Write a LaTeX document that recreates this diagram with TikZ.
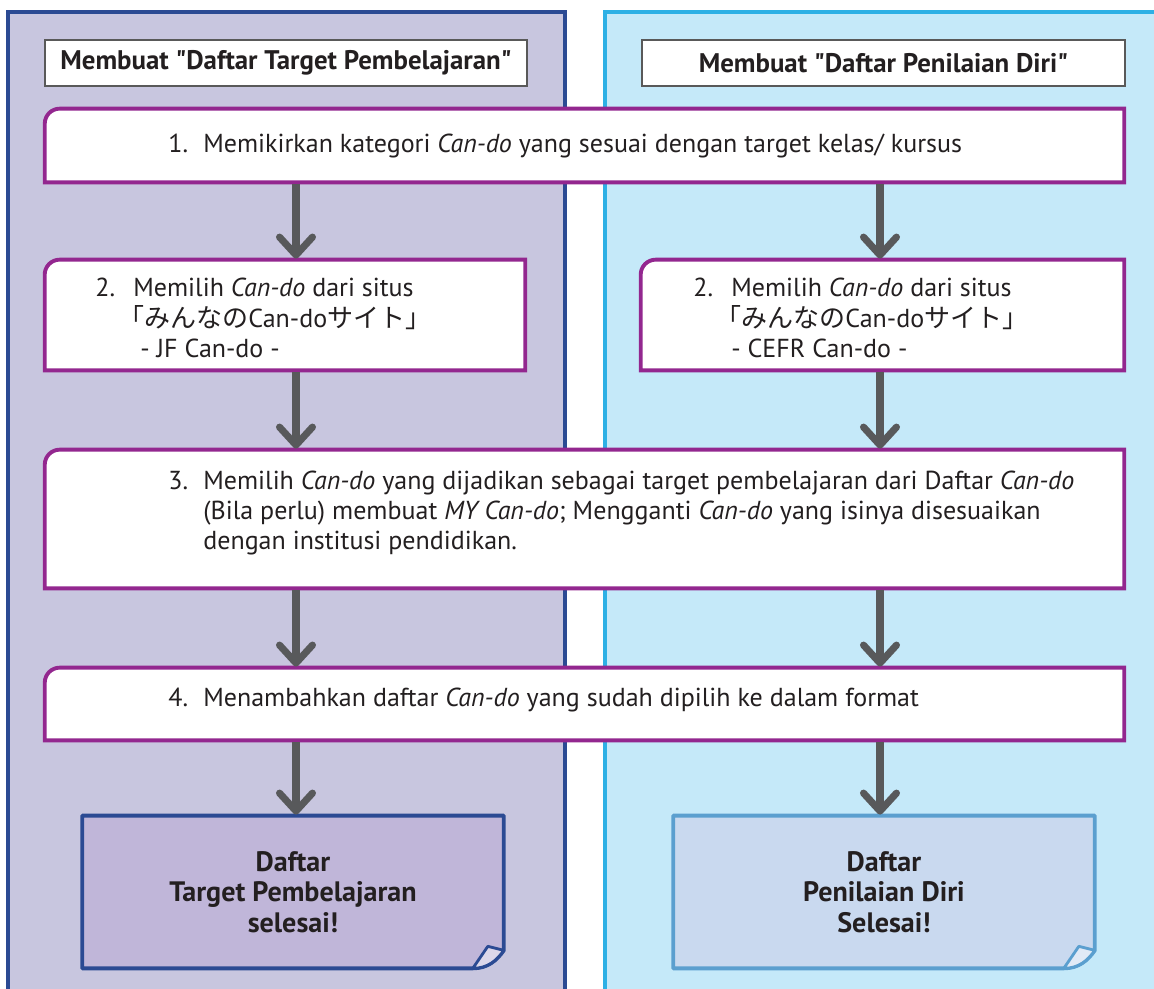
\documentclass[tikz,border=0pt]{standalone}
\usepackage{fontspec}
\setmainfont{PT Sans}
\newfontfamily\jpfont{Noto Sans CJK JP}
\usepackage{xcolor}
\usetikzlibrary{arrows.meta, positioning}

\definecolor{ink}{HTML}{231F20}
\definecolor{navyline}{HTML}{2B4A93}
\definecolor{lilacbg}{HTML}{C8C6DF}
\definecolor{cyanline}{HTML}{2DB0E5}
\definecolor{skybg}{HTML}{C5E9F9}
\definecolor{plumline}{HTML}{93278F}
\definecolor{arrowgray}{HTML}{58595B}
\definecolor{lilacend}{HTML}{C0B6D9}
\definecolor{skyend}{HTML}{C9D9EF}
\definecolor{skyendline}{HTML}{5B9FCF}

\begin{document}
\begin{tikzpicture}[
    x=0.02cm, y=-0.02cm,
    font=\fontsize{14.8}{17.2}\selectfont, text=ink,
    panel/.style={rectangle, line width=2pt, minimum height=19.96cm, inner sep=0pt},
    header/.style={rectangle, draw=black!65, line width=0.8pt, fill=white,
                   minimum height=0.92cm, inner sep=0pt,
                   font=\fontsize{15.3}{17}\selectfont\bfseries},
    stepbox/.style={rectangle, inner sep=0pt},
    stepline/.style={draw=plumline, fill=white, line width=2.2pt},
    steptext/.style={anchor=west, align=left, inner sep=0pt},
    endbox/.style={rectangle, inner sep=0pt, minimum width=8.42cm, minimum height=3.04cm},
    endtext/.style={align=center, font=\fontsize{16}{17.2}\selectfont\bfseries},
    flow/.style={-{Straight Barb[length=0.36cm, width=0.66cm, round]},
                 line width=4pt, draw=arrowgray, shorten <=1.1pt, shorten >=0.6pt},
]
\useasboundingbox (0,0) rectangle (1154,989);
\clip (0,0) rectangle (1154,989);

% ── Panels : two lanes, both run off the bottom edge ────────────────
\node[panel, draw=navyline, fill=lilacbg, minimum width=11.14cm] (laneApanel) at (286.5,511) {};
\node[panel, draw=cyanline, fill=skybg,   minimum width=11.20cm] (laneBpanel) at (885,511) {};

% ── Headers  y=63 ───────────────────────────────────────────────────
\node[header, minimum width=9.64cm] (headA) at (286,63)
  {Membuat \textquotedbl Daftar Target Pembelajaran\textquotedbl};
\node[header, minimum width=9.66cm] (headB) at (883.5,63)
  {Membuat \textquotedbl Daftar Penilaian Diri\textquotedbl};

% ── Step boxes (outline drawn below, only top-left corner rounded) ──
\node[stepbox, minimum width=21.58cm, minimum height=1.46cm] (s1)  at (584.5,145.5) {};
\node[stepbox, minimum width=9.60cm,  minimum height=2.20cm] (s2a) at (285,315) {};
\node[stepbox, minimum width=9.66cm,  minimum height=2.20cm] (s2b) at (882.5,315) {};
\node[stepbox, minimum width=21.58cm, minimum height=2.76cm] (s3)  at (584.5,519) {};
\node[stepbox, minimum width=21.58cm, minimum height=1.44cm] (s4)  at (584.5,704) {};

\foreach \b in {s1, s2a, s2b, s3, s4}
  \filldraw[stepline] (\b.south west) -- ([yshift=-0.3cm]\b.north west)
      arc[start angle=180, end angle=90, radius=0.3cm]
      -- (\b.north east) -- (\b.south east) -- cycle;

% ── Step texts ──────────────────────────────────────────────────────
\node[steptext] (t1) at (168,146)
  {\makebox[0.7cm][l]{1.}Memikirkan kategori \textit{Can-do} yang sesuai dengan target kelas/ kursus};

\node[steptext] (t2a) at (95,318)
  {\makebox[0.76cm][l]{2.}Memilih \textit{Can-do} dari situs\\
   \hspace*{0.46cm}{\jpfont 「みんなの}Can-do{\jpfont サイト」}\\
   \hspace*{0.90cm}- JF Can-do -};
\node[steptext] (t2b) at (693,318)
  {\makebox[0.76cm][l]{2.}Memilih \textit{Can-do} dari situs\\
   \hspace*{0.44cm}{\jpfont 「みんなの}Can-do{\jpfont サイト」}\\
   \hspace*{0.76cm}- CEFR Can-do -};

\node[steptext] (t3) at (168,513)
  {\makebox[0.7cm][l]{3.}Memilih \textit{Can-do} yang dijadikan sebagai target pembelajaran dari Daftar \textit{Can-do}\\
   \hspace*{0.7cm}(Bila perlu) membuat \textit{MY Can-do}; Mengganti \textit{Can-do} yang isinya disesuaikan\\
   \hspace*{0.7cm}dengan institusi pendidikan.};

\node[steptext] (t4) at (168,700)
  {\makebox[0.7cm][l]{4.}Menambahkan daftar \textit{Can-do} yang sudah dipilih ke dalam format};

% ── End sheets with folded corner ───────────────────────────────────
\node[endbox] (endA) at (293,892) {};
\node[endbox] (endB) at (884,892) {};

\filldraw[draw=navyline, fill=lilacend, line width=2.2pt, line join=round]
  (endA.north west) -- (endA.north east) -- ([yshift=0.36cm]endA.south east)
  .. controls +(-0.14cm,-0.2cm) and +(0.3cm,0cm) .. ([xshift=-0.62cm]endA.south east)
  -- (endA.south west) -- cycle;
\filldraw[draw=navyline, fill=lilacend!55!white, line width=1.6pt, line join=round]
  ([yshift=0.36cm]endA.south east) -- ([xshift=-0.32cm, yshift=0.44cm]endA.south east)
  -- ([xshift=-0.62cm]endA.south east)
  .. controls +(0.3cm,0cm) and +(-0.14cm,-0.2cm) .. ([yshift=0.36cm]endA.south east);

\filldraw[draw=skyendline, fill=skyend, line width=2.2pt, line join=round]
  (endB.north west) -- (endB.north east) -- ([yshift=0.36cm]endB.south east)
  .. controls +(-0.14cm,-0.2cm) and +(0.3cm,0cm) .. ([xshift=-0.62cm]endB.south east)
  -- (endB.south west) -- cycle;
\filldraw[draw=skyendline, fill=skyend!55!white, line width=1.6pt, line join=round]
  ([yshift=0.36cm]endB.south east) -- ([xshift=-0.32cm, yshift=0.44cm]endB.south east)
  -- ([xshift=-0.62cm]endB.south east)
  .. controls +(0.3cm,0cm) and +(-0.14cm,-0.2cm) .. ([yshift=0.36cm]endB.south east);

\node[endtext] (endAlbl) at (endA) {Daftar\\Target Pembelajaran\\selesai!};
\node[endtext] (endBlbl) at (endB) {Daftar\\Penilaian Diri\\Selesai!};

% ── Arrows : one lane per column ────────────────────────────────────
\coordinate (laneA) at (296,0);
\coordinate (laneB) at (880,0);

\draw[flow] (s1.south -| laneA)  -- (s2a.north -| laneA);
\draw[flow] (s1.south -| laneB)  -- (s2b.north -| laneB);
\draw[flow] (s2a.south -| laneA) -- (s3.north -| laneA);
\draw[flow] (s2b.south -| laneB) -- (s3.north -| laneB);
\draw[flow] (s3.south -| laneA)  -- (s4.north -| laneA);
\draw[flow] (s3.south -| laneB)  -- (s4.north -| laneB);
\draw[flow] (s4.south -| laneA)  -- (endA.north -| laneA);
\draw[flow] (s4.south -| laneB)  -- (endB.north -| laneB);

\end{tikzpicture}
\end{document}
